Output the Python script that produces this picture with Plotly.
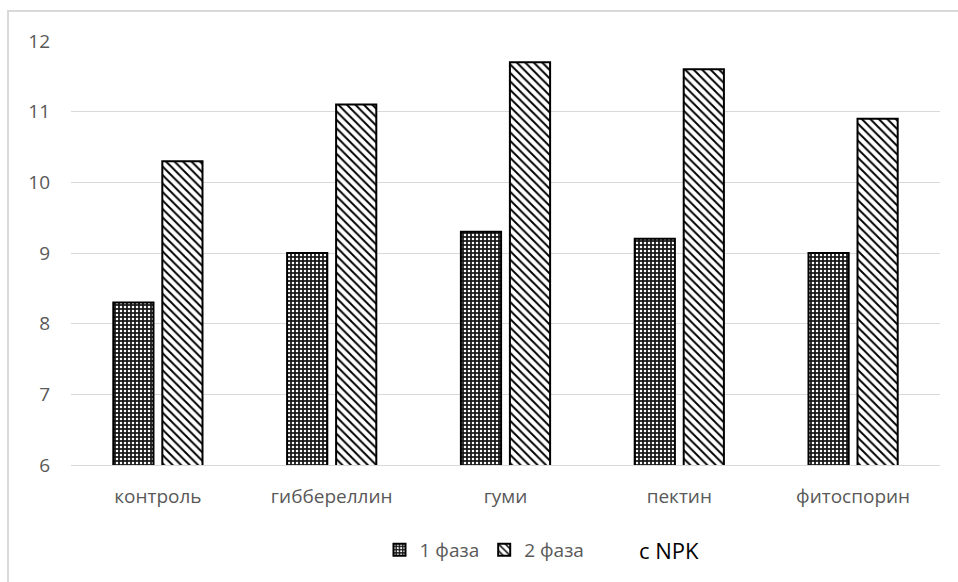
import plotly.graph_objects as go

categories = ["контроль", "гиббереллин", "гуми", "пектин", "фитоспорин"]
phase1 = [8.3, 9.0, 9.3, 9.2, 9.0]
phase2 = [10.3, 11.1, 11.7, 11.6, 10.9]
series_names = ["1 фаза", "2 фаза"]
y_ticks = [6, 7, 8, 9, 10, 11, 12]

FONT = "Open Sans"
GRAY = "#595959"

fig = go.Figure()
fig.add_trace(go.Bar(
    x=categories, y=phase1, name=series_names[0],
    marker=dict(
        color="black",
        line=dict(color="black", width=2),
        pattern=dict(shape=".", size=4, solidity=0.3, fgcolor="white",
                     bgcolor="#1a1a1a", fgopacity=1, fillmode="overlay"),
    ),
))
fig.add_trace(go.Bar(
    x=categories, y=phase2, name=series_names[1],
    marker=dict(
        color="white",
        line=dict(color="black", width=2),
        pattern=dict(shape="\\", size=6, solidity=0.32, fgcolor="black",
                     bgcolor="white", fgopacity=1),
    ),
))

fig.update_layout(
    width=958, height=582,
    margin=dict(l=71, r=18, t=41, b=117),
    paper_bgcolor="white", plot_bgcolor="white",
    barmode="group", bargap=0.436, bargroupgap=0.18,
    font=dict(family=FONT, size=19, color=GRAY),
    showlegend=True,
    legend=dict(
        orientation="h", x=0.355, xanchor="left", y=-0.2, yanchor="middle",
        font=dict(family=FONT, size=19, color=GRAY),
        tracegroupgap=0,
    ),
    xaxis=dict(
        showgrid=False, showline=True, linecolor="#d9d9d9", linewidth=1,
        ticks="", tickfont=dict(size=19, color=GRAY), ticklabelstandoff=14,
    ),
    yaxis=dict(
        range=[6, 12], tickvals=y_ticks, showgrid=True, gridcolor="#d9d9d9",
        gridwidth=1, zeroline=False, showline=False, ticks="",
        tickfont=dict(size=19, color=GRAY), ticklabelstandoff=20,
    ),
)

# outer chart frame
fig.add_shape(
    type="rect", xref="paper", yref="paper",
    x0=-0.0725, x1=1.2, y0=-0.4, y1=1.0708,
    line=dict(color="#d9d9d9", width=2), fillcolor="rgba(0,0,0,0)", layer="below",
)

fig.add_annotation(
    text="с NPK", xref="paper", yref="paper", x=0.651, y=-0.2,
    xanchor="left", yanchor="middle", showarrow=False,
    font=dict(family=FONT, size=22, color="black"),
)

fig.write_html("out.html")
